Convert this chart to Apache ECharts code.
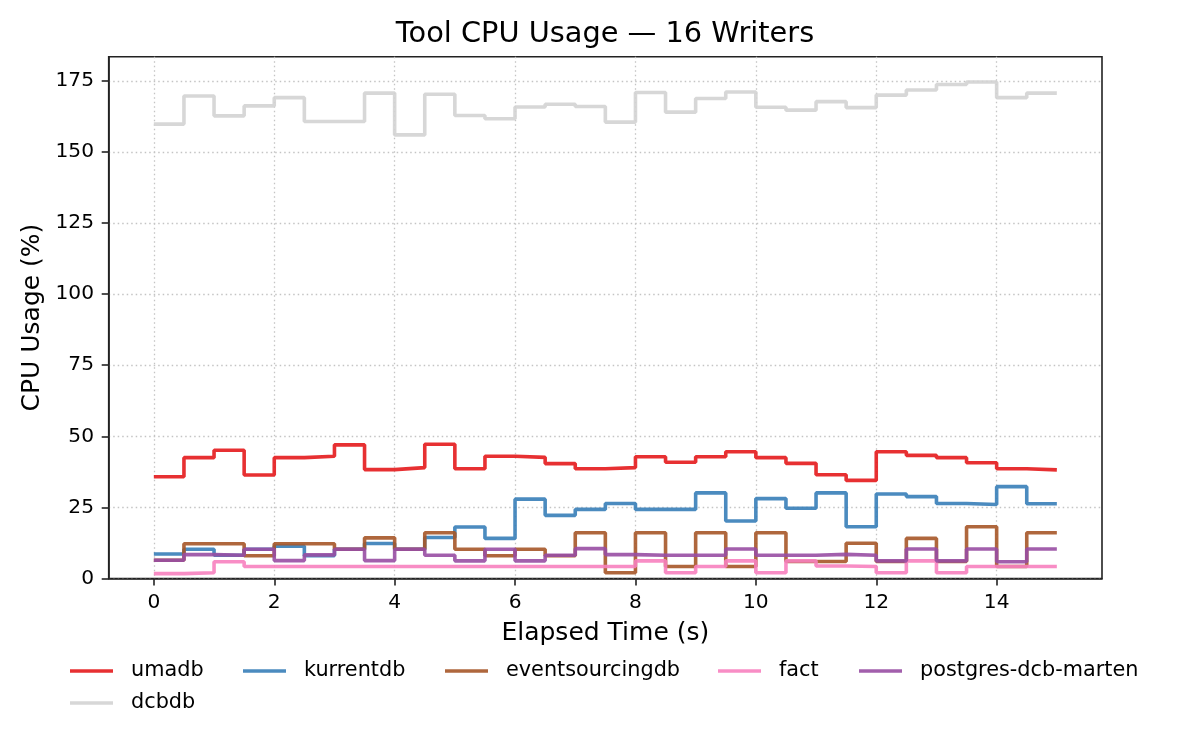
<!DOCTYPE html>
<html>
<head>
<meta charset="utf-8">
<title>Tool CPU Usage — 16 Writers</title>
<script src="https://cdn.jsdelivr.net/npm/echarts@6/dist/echarts.min.js"></script>
<style>
html, body { margin: 0; padding: 0; background: #fff; }
#chart { width: 1200px; height: 750px; }
</style>
</head>
<body>
<div id="chart"></div>
<script>
// elapsed time (s), one sample every 0.5 s
var times = [0, 0.5, 1, 1.5, 2, 2.5, 3, 3.5, 4, 4.5, 5, 5.5, 6, 6.5, 7, 7.5,
             8, 8.5, 9, 9.5, 10, 10.5, 11, 11.5, 12, 12.5, 13, 13.5, 14, 14.5, 15];

// CPU usage (%) per tool
var umadb = [35.8, 42.5, 45.1, 36.4, 42.5, 43.0, 47.0, 38.3, 39.0, 47.2, 38.6, 43.0, 42.6, 40.4, 38.6, 39.0,
             42.8, 40.9, 42.8, 44.6, 42.5, 40.5, 36.5, 34.5, 44.6, 43.3, 42.5, 40.7, 38.6, 38.2, 38.2];
var kurrentdb = [8.6, 10.3, 8.2, 10.3, 11.4, 8.0, 10.3, 12.3, 10.3, 14.4, 18.1, 14.1, 27.9, 22.2, 24.3, 26.4,
                 24.3, 24.3, 30.1, 20.2, 28.1, 24.7, 30.1, 18.2, 29.7, 28.8, 26.4, 26.0, 32.3, 26.3, 26.3];
var eventsourcingdb = [6.4, 12.2, 12.2, 8.0, 12.2, 12.2, 10.3, 14.3, 10.3, 16.1, 10.3, 8.0, 10.3, 8.0, 16.1, 2.0,
                       16.1, 4.2, 16.1, 4.2, 16.1, 6.0, 6.0, 12.4, 6.0, 14.1, 6.0, 18.2, 4.2, 16.1, 16.1];
var fact = [1.7, 2.0, 5.9, 4.2, 4.2, 4.2, 4.2, 4.2, 4.2, 4.2, 4.2, 4.2, 4.2, 4.2, 4.2, 4.2,
            6.2, 2.0, 4.2, 6.2, 2.0, 6.2, 4.4, 4.2, 2.0, 6.2, 2.0, 4.2, 4.2, 4.2, 4.2];
var postgresDcbMarten = [6.4, 8.4, 8.2, 10.3, 6.3, 8.3, 10.3, 6.3, 10.3, 8.2, 6.2, 10.3, 6.2, 8.2, 10.5, 8.4,
                         8.2, 8.2, 8.2, 10.4, 8.2, 8.2, 8.5, 8.2, 6.2, 10.4, 6.2, 10.4, 5.9, 10.4, 10.4];
var dcbdb = [159.8, 169.7, 162.7, 166.2, 169.1, 160.7, 160.7, 170.7, 156.0, 170.3, 162.8, 161.7, 165.8, 166.8, 166.0, 160.5,
             170.9, 164.0, 168.8, 171.1, 165.7, 164.7, 167.7, 165.6, 170.0, 171.8, 173.7, 174.6, 169.1, 170.7, 170.7];

// tick labels
var xTicks = [0, 2, 4, 6, 8, 10, 12, 14];
var yTicks = [0, 25, 50, 75, 100, 125, 150, 175];

var seriesNames = ['umadb', 'kurrentdb', 'eventsourcingdb', 'fact', 'postgres-dcb-marten', 'dcbdb'];
var seriesValues = [umadb, kurrentdb, eventsourcingdb, fact, postgresDcbMarten, dcbdb];
var seriesColors = ['rgba(228,26,28,0.9)', 'rgba(55,126,184,0.9)', 'rgba(166,86,40,0.9)',
                    'rgba(247,129,191,0.9)', 'rgba(152,78,163,0.9)', 'rgba(211,211,211,0.9)'];

var font = 'DejaVu Sans';

var series = seriesNames.map(function (name, i) {
    return {
        name: name,
        type: 'line',
        step: 'end',
        showSymbol: false,
        animation: false,
        color: seriesColors[i],
        lineStyle: { width: 3.6, color: seriesColors[i] },
        data: times.map(function (t, j) { return [t, seriesValues[i][j]]; })
    };
});

// legend laid out like the matplotlib one: 5 columns, dcbdb wraps to a second row
var legendLeft = [70, 243, 445, 718, 859, 70];
var legendTop = [659, 659, 659, 659, 659, 691];
var legends = seriesNames.map(function (name, i) {
    return {
        data: [name],
        left: legendLeft[i],
        top: legendTop[i],
        padding: 0,
        icon: 'rect',
        itemWidth: 43,
        itemHeight: 3.6,
        selectedMode: false,
        textStyle: { fontFamily: font, fontSize: 20.8, color: '#000', lineHeight: 24, padding: [0, 0, 0, 13] }
    };
});

var gridLine = { show: true, lineStyle: { type: [1.5, 3], color: '#c4c4c4', width: 1.3 } };

var mychart = echarts.init(document.getElementById('chart'));
var option = {
    backgroundColor: '#fff',
    animation: false,
    title: {
        text: 'Tool CPU Usage — 16 Writers',
        left: 605,
        top: 20,
        padding: 0,
        textAlign: 'center',
        textStyle: { fontFamily: font, fontSize: 28.8, fontWeight: 'normal', color: '#000' }
    },
    legend: legends,
    grid: {
        left: 108.7,
        right: 98,
        top: 56.7,
        bottom: 171.5,
        show: true,
        borderColor: '#222',
        borderWidth: 1.6,
        backgroundColor: 'transparent',
        outerBoundsMode: 'none'
    },
    xAxis: {
        type: 'value',
        min: -0.75,
        max: 15.75,
        name: 'Elapsed Time (s)',
        nameLocation: 'middle',
        nameGap: 42,
        nameTextStyle: { fontFamily: font, fontSize: 25, color: '#000' },
        axisLine: { show: true, onZero: false, lineStyle: { color: '#222', width: 1.6 } },
        axisTick: { show: true, length: 7, customValues: xTicks, lineStyle: { color: '#222', width: 1.6 } },
        axisLabel: { margin: 14, customValues: xTicks, fontFamily: font, fontSize: 20.2, color: '#000' },
        splitLine: gridLine
    },
    yAxis: {
        type: 'value',
        min: 0,
        max: 183.5,
        name: 'CPU Usage (%)',
        nameLocation: 'middle',
        nameGap: 64,
        nameRotate: 90,
        nameTextStyle: { fontFamily: font, fontSize: 25, color: '#000' },
        axisLine: { show: true, onZero: false, lineStyle: { color: '#222', width: 1.6 } },
        axisTick: { show: true, length: 7, customValues: yTicks, lineStyle: { color: '#222', width: 1.6 } },
        axisLabel: { margin: 14.7, customValues: yTicks, fontFamily: font, fontSize: 20.2, color: '#000' },
        splitLine: gridLine
    },
    series: series
};

mychart.setOption(option);
</script>
</body>
</html>
